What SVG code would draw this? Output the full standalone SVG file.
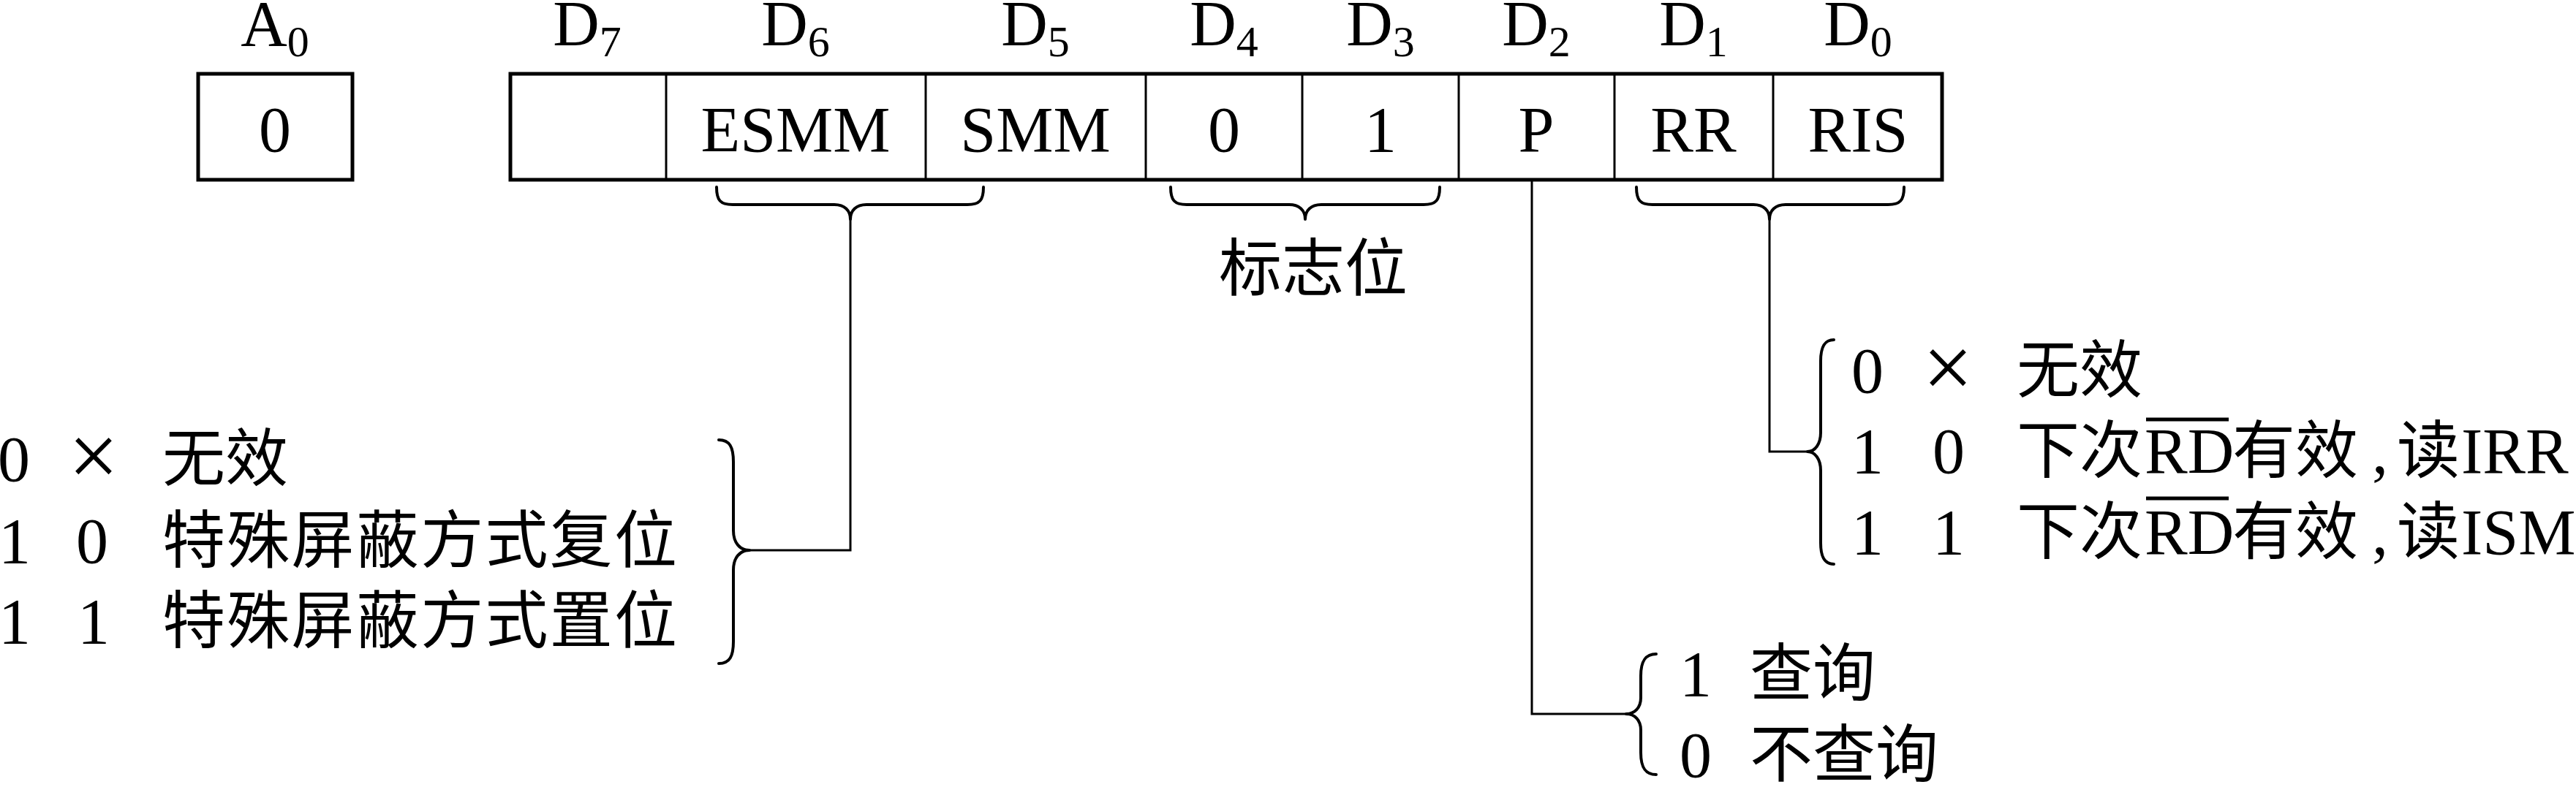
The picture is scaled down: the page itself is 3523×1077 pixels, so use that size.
<svg xmlns="http://www.w3.org/2000/svg" width="3523" height="1077" viewBox="0 0 3523 1077">
<style>
text{font-family:"Liberation Serif","Noto Sans CJK SC",serif;font-size:88px;fill:#000}
.m{text-anchor:middle}
.cj{font-family:"Noto Sans CJK SC","Liberation Serif",sans-serif;font-size:86px}
.sub{font-size:60px}
.x{font-size:122px}
.outer{fill:none;stroke:#000;stroke-width:5}
.div{stroke:#000;stroke-width:3}
.br{fill:none;stroke:#000;stroke-width:4;stroke-linejoin:round;stroke-linecap:round}
.ln{fill:none;stroke:#000;stroke-width:3}
.ov{stroke:#000;stroke-width:5}
</style>
<rect width="3523" height="1077" fill="#fff"/>

<g id="bit-labels">
<text class="m" x="376" y="62">A<tspan class="sub" dy="15">0</tspan></text>
<text class="m" x="803" y="62">D<tspan class="sub" dy="15">7</tspan></text>
<text class="m" x="1088" y="62">D<tspan class="sub" dy="15">6</tspan></text>
<text class="m" x="1416" y="62">D<tspan class="sub" dy="15">5</tspan></text>
<text class="m" x="1674" y="62">D<tspan class="sub" dy="15">4</tspan></text>
<text class="m" x="1888" y="62">D<tspan class="sub" dy="15">3</tspan></text>
<text class="m" x="2101" y="62">D<tspan class="sub" dy="15">2</tspan></text>
<text class="m" x="2316" y="62">D<tspan class="sub" dy="15">1</tspan></text>
<text class="m" x="2541" y="62">D<tspan class="sub" dy="15">0</tspan></text>
</g>

<g id="a0-register">
<rect class="outer" x="271" y="101" width="211" height="145"/>
<text class="m" x="376" y="207">0</text>
</g>

<g id="main-register">
<rect class="outer" x="698" y="101" width="1958" height="145"/>
<line class="div" x1="911" y1="101" x2="911" y2="246"/>
<line class="div" x1="1266" y1="101" x2="1266" y2="246"/>
<line class="div" x1="1567" y1="101" x2="1567" y2="246"/>
<line class="div" x1="1781" y1="101" x2="1781" y2="246"/>
<line class="div" x1="1995" y1="101" x2="1995" y2="246"/>
<line class="div" x1="2208" y1="101" x2="2208" y2="246"/>
<line class="div" x1="2425" y1="101" x2="2425" y2="246"/>
<text class="m" x="1088" y="207">ESMM</text>
<text class="m" x="1416" y="207">SMM</text>
<text class="m" x="1674" y="207">0</text>
<text class="m" x="1888" y="207">1</text>
<text class="m" x="2101" y="207">P</text>
<text class="m" x="2316" y="207">RR</text>
<text class="m" x="2541" y="207">RIS</text>
</g>

<g id="brace-esmm">
<path class="br" d="M980,256 C980,274 985,280 1002,280 L1141,280 C1155,280 1163,288 1163,300 C1163,288 1171,280 1185,280 L1323,280 C1340,280 1345,274 1345,256"/>
</g>

<g id="brace-flags">
<path class="br" d="M1601,256 C1601,274 1606,280 1623,280 L1763,280 C1777,280 1785,288 1785,300 C1785,288 1793,280 1807,280 L1947,280 C1964,280 1969,274 1969,256"/>
<text class="cj m" x="1796" y="398">标志位</text>
</g>

<g id="brace-rr">
<path class="br" d="M2238,256 C2238,274 2243,280 2260,280 L2398,280 C2412,280 2420,288 2420,300 C2420,288 2428,280 2442,280 L2582,280 C2599,280 2604,274 2604,256"/>
</g>

<g id="connectors">
<polyline class="ln" points="1163,300 1163,753 1025,753"/>
<polyline class="ln" points="2095,248 2095,977 2224,977"/>
<polyline class="ln" points="2420,300 2420,618 2472,618"/>
</g>

<g id="legend-esmm">
<path class="br" d="M983,602 C998,602 1003,612 1003,632 L1003,726 C1003,743 1012,753 1025,753 C1012,753 1003,763 1003,780 L1003,878 C1003,898 998,908 983,908"/>
<text x="-3" y="658">0</text>
<text class="m x" x="128" y="665">×</text>
<text class="cj" x="222" y="658">无效</text>
<text class="m" x="20" y="770">1</text>
<text class="m" x="126" y="770">0</text>
<text class="cj" x="222" y="770" textLength="704">特殊屏蔽方式复位</text>
<text class="m" x="20" y="880">1</text>
<text class="m" x="128" y="880">1</text>
<text class="cj" x="222" y="880" textLength="704">特殊屏蔽方式置位</text>
</g>

<g id="legend-rr">
<path class="br" d="M2508,465 C2495,465 2490,475 2490,494 L2490,592 C2490,608 2482,618 2472,618 C2482,618 2490,628 2490,644 L2490,743 C2490,762 2495,772 2508,772"/>
<text class="m" x="2554" y="537">0</text>
<text class="m x" x="2664" y="544">×</text>
<text class="cj" x="2758" y="537">无效</text>
<text class="m" x="2554" y="647">1</text>
<text class="m" x="2665" y="647">0</text>
<text y="647"><tspan class="cj" x="2758">下次</tspan><tspan x="2933">RD</tspan><tspan class="cj" x="3053">有效</tspan><tspan x="3244">,</tspan><tspan class="cj" x="3278">读</tspan><tspan x="3366">IRR</tspan></text>
<line class="ov" x1="2935" y1="574" x2="3048" y2="574"/>
<text class="m" x="2554" y="758">1</text>
<text class="m" x="2665" y="758">1</text>
<text y="758"><tspan class="cj" x="2758">下次</tspan><tspan x="2933">RD</tspan><tspan class="cj" x="3053">有效</tspan><tspan x="3244">,</tspan><tspan class="cj" x="3278">读</tspan><tspan x="3366">ISM</tspan></text>
<line class="ov" x1="2935" y1="682" x2="3048" y2="682"/>
</g>

<g id="legend-p">
<path class="br" d="M2265,895 C2250,895 2244,905 2244,925 L2244,955 C2244,968 2236,977 2224,977 C2236,977 2244,986 2244,999 L2244,1030 C2244,1050 2250,1060 2265,1060"/>
<text class="m" x="2319" y="952">1</text>
<text class="cj" x="2393" y="952">查询</text>
<text class="m" x="2319" y="1063">0</text>
<text class="cj" x="2393" y="1063">不查询</text>
</g>
</svg>
